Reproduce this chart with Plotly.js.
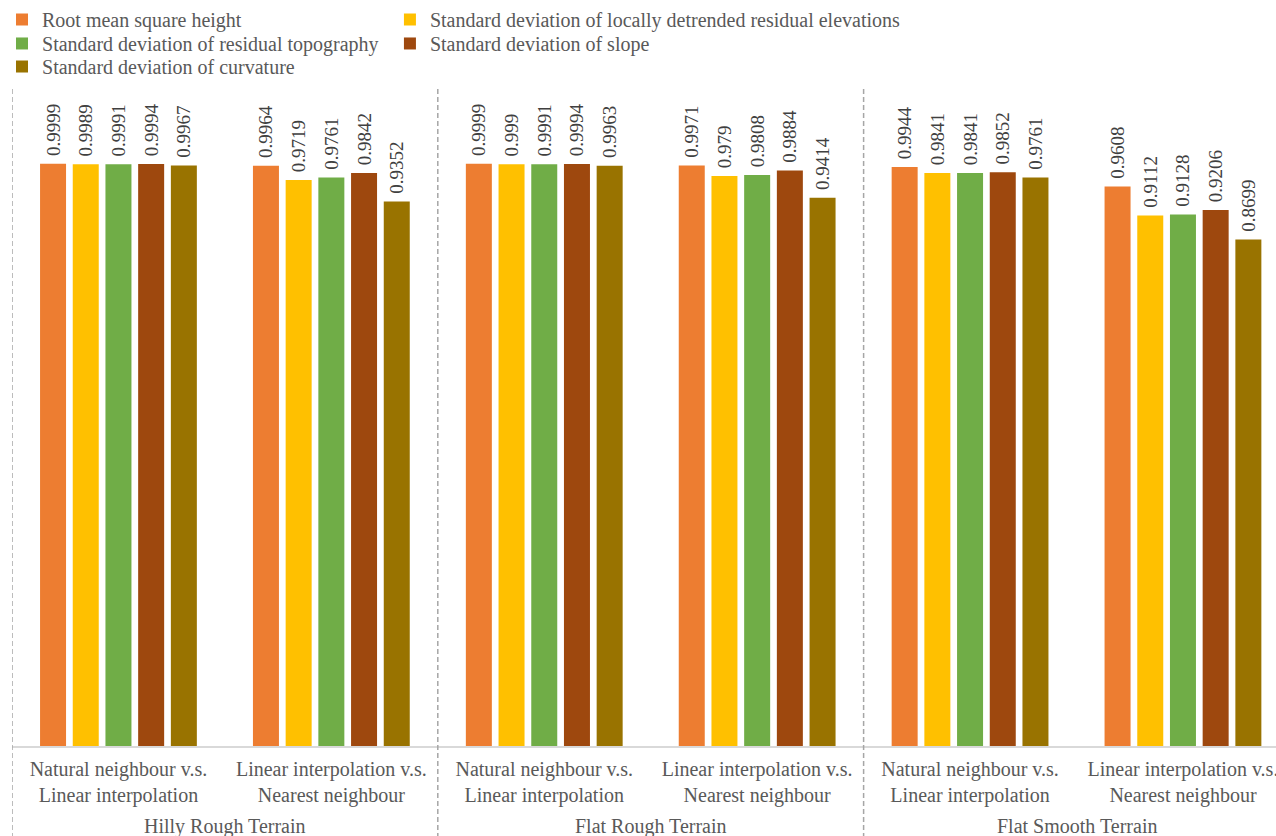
<!DOCTYPE html>
<html>
<head>
<meta charset="utf-8">
<script src="https://cdn.plot.ly/plotly-3.0.1.min.js"></script>
<style>html,body{margin:0;padding:0;background:#fff;}#chart{width:1276px;height:836px;}</style>
</head>
<body>
<div id="chart"></div>
<script>
// ---- data ----
const terrains = ["Hilly Rough Terrain", "Flat Rough Terrain", "Flat Smooth Terrain"];
const comparisons = ["Natural neighbour v.s.<br>Linear interpolation", "Linear interpolation v.s.<br>Nearest neighbour"];
const seriesNames = [
  "Root mean square height",
  "Standard deviation of locally detrended residual elevations",
  "Standard deviation of residual topography",
  "Standard deviation of slope",
  "Standard deviation of curvature"
];
const rmsHeight   = [0.9999, 0.9964, 0.9999, 0.9971, 0.9944, 0.9608];
const sdDetrended = [0.9989, 0.9719, 0.999,  0.979,  0.9841, 0.9112];
const sdResidual  = [0.9991, 0.9761, 0.9991, 0.9808, 0.9841, 0.9128];
const sdSlope     = [0.9994, 0.9842, 0.9994, 0.9884, 0.9852, 0.9206];
const sdCurvature = [0.9967, 0.9352, 0.9963, 0.9414, 0.9761, 0.8699];

// ---- styling ----
const colors = ["#ED7D31", "#FFC000", "#70AD47", "#9E480E", "#997300"];
const legendIds = ["legend", "legend2", "legend3", "legend4", "legend5"];
// legend placement (paper coords): two columns, three rows
const legendX = [-0.0079, 0.299, -0.0079, 0.299, -0.0079];
const legendY = [1.134, 1.134, 1.0973, 1.0973, 1.0623];
const serif = "Liberation Serif";
const gray = "#595959";

const allSeries = [rmsHeight, sdDetrended, sdResidual, sdSlope, sdCurvature];
const tickText = [];
terrains.forEach(() => comparisons.forEach(c => tickText.push(c)));
const xIdx = tickText.map((_, i) => i);

const traces = allSeries.map((vals, s) => ({
  type: "bar",
  name: seriesNames[s],
  x: xIdx,
  y: vals,
  text: vals.map(v => "\u00a0" + String(v)),
  textposition: "outside",
  textangle: -90,
  constraintext: "none",
  cliponaxis: false,
  textfont: {family: serif, size: 19, color: "#404040"},
  marker: {color: colors[s], line: {width: 0}},
  legend: legendIds[s],
  hoverinfo: "skip"
}));

const shapes = [-0.5, 1.5, 3.5].map(xv => ({
  type: "line", xref: "x", yref: "paper",
  x0: xv, x1: xv, y0: -0.14, y1: 1.0,
  line: {color: "#a6a6a6", width: 1.5, dash: "5px,3px"}
}));

const annotations = terrains.map((t, i) => ({
  text: t, xref: "x", yref: "paper",
  x: i * 2 + 0.5, y: -0.1216, yanchor: "middle", xanchor: "center",
  showarrow: false, font: {family: serif, size: 20, color: gray}
}));

const layout = {
  width: 1276, height: 836,
  margin: {l: 12, r: 0, t: 88, b: 90},
  paper_bgcolor: "#fff", plot_bgcolor: "#fff",
  barmode: "group", bargap: 0.232, bargroupgap: 0.205,
  font: {family: serif, color: gray},
  xaxis: {
    range: [-0.5, 5.437], tickvals: xIdx, ticktext: tickText,
    showgrid: false, zeroline: false, showline: true, linecolor: "#d9d9d9", linewidth: 1.5,
    ticks: "", ticklabeloverflow: "allow", ticklabelstandoff: 4,
    tickfont: {family: serif, size: 20, color: gray}, fixedrange: true
  },
  yaxis: {range: [0, 1.13], visible: false, showgrid: false, zeroline: false, fixedrange: true},
  shapes: shapes,
  annotations: annotations,
  showlegend: true
};
legendIds.forEach((id, i) => {
  layout[id] = {x: legendX[i], y: legendY[i], xanchor: "left", yanchor: "top", orientation: "v",
    bgcolor: "rgba(0,0,0,0)", font: {family: serif, size: 20, color: gray}, itemwidth: 30};
});

Plotly.newPlot("chart", traces, layout, {displayModeBar: false, staticPlot: true});
</script>
</body>
</html>
